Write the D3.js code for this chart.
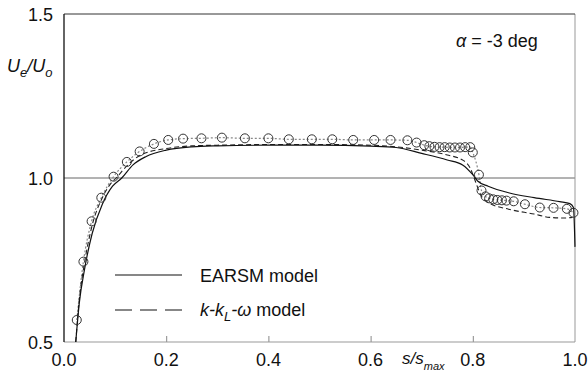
<!DOCTYPE html>
<html><head><meta charset="utf-8">
<script src="https://cdn.jsdelivr.net/npm/d3@7"></script>
<style>body{margin:0;background:#fff}svg{display:block}text{font-family:"Liberation Sans",Arial,sans-serif;fill:#111}</style>
</head><body>
<svg id="c" width="588" height="376"></svg>
<script>
const expX = [0.025,0.038,0.054,0.073,0.097,0.123,0.148,0.176,0.204,0.233,0.269,0.309,0.354,0.400,0.440,0.485,0.525,0.566,0.607,0.639,0.672,0.690,0.705,0.715,0.725,0.735,0.745,0.755,0.765,0.775,0.785,0.795,0.800,0.812,0.817,0.825,0.832,0.840,0.848,0.857,0.866,0.880,0.902,0.931,0.958,0.984,0.997];
const expY = [0.567,0.745,0.868,0.940,1.004,1.049,1.081,1.104,1.116,1.120,1.121,1.123,1.121,1.121,1.118,1.118,1.118,1.116,1.116,1.116,1.115,1.108,1.100,1.097,1.095,1.094,1.094,1.093,1.093,1.093,1.094,1.094,1.078,1.010,0.962,0.944,0.938,0.935,0.933,0.932,0.931,0.929,0.920,0.910,0.909,0.906,0.894];
const earsmX = [0.023,0.030,0.040,0.055,0.075,0.095,0.113,0.135,0.160,0.200,0.250,0.300,0.400,0.500,0.600,0.650,0.700,0.750,0.780,0.800,0.810,0.830,0.870,0.920,0.970,0.990,0.997,1.000];
const earsmY = [0.500,0.620,0.720,0.830,0.920,0.975,1.000,1.040,1.065,1.085,1.095,1.098,1.100,1.100,1.097,1.093,1.075,1.055,1.040,1.010,0.990,0.975,0.955,0.940,0.928,0.922,0.910,0.790];
const kklX = [0.023,0.030,0.040,0.055,0.075,0.090,0.102,0.125,0.150,0.200,0.250,0.300,0.400,0.500,0.600,0.650,0.700,0.750,0.780,0.795,0.805,0.815,0.830,0.870,0.920,0.950,0.980,0.995];
const kklY = [0.500,0.630,0.740,0.855,0.940,0.980,1.000,1.040,1.070,1.090,1.098,1.100,1.102,1.102,1.100,1.095,1.085,1.070,1.055,1.030,0.990,0.950,0.925,0.905,0.890,0.880,0.878,0.880];
const xTicks = [0.0,0.2,0.4,0.6,0.8,1.0];
const xTickLabels = ["0.0","0.2","0.4","0.6","0.8","1.0"];
const yTicks = [0.5,1.0,1.5];
const yTickLabels = ["0.5","1.0","1.5"];

const svg = d3.select("#c");
const L=64,R=575,T=14,B=342;
const x = d3.scaleLinear().domain([0,1]).range([L,R]);
const y = d3.scaleLinear().domain([0.5,1.5]).range([B,T]);

svg.append("line").attr("x1",L).attr("x2",R).attr("y1",y(1)).attr("y2",y(1)).attr("stroke","#666").attr("stroke-width",1);

const xAxis = d3.axisBottom(x).tickValues(xTicks.slice(1,-1)).tickSize(-6).tickFormat("");
const gx = svg.append("g").attr("transform",`translate(0,${B})`).call(xAxis);
gx.select(".domain").remove();
gx.selectAll("line").attr("stroke","#888");
svg.append("g").selectAll("text").data(xTicks).join("text")
  .attr("x",d=>x(d)).attr("y",366).attr("text-anchor","middle").attr("font-size",18)
  .text((d,i)=>xTickLabels[i]);
svg.append("g").selectAll("text").data(yTicks).join("text")
  .attr("x",53).attr("y",d=>y(d)+7).attr("text-anchor","end").attr("font-size",18)
  .text((d,i)=>yTickLabels[i]);

svg.append("line").attr("x1",L).attr("x2",R).attr("y1",B).attr("y2",B).attr("stroke","#999");
svg.append("line").attr("x1",R).attr("x2",R).attr("y1",T).attr("y2",B).attr("stroke","#999");
svg.append("line").attr("x1",L).attr("x2",R).attr("y1",T).attr("y2",T).attr("stroke","#333");
svg.append("line").attr("x1",L).attr("x2",L).attr("y1",T).attr("y2",B).attr("stroke","#111").attr("stroke-width",1.3);

const line = d3.line().x(d=>x(d[0])).y(d=>y(d[1])).curve(d3.curveMonotoneX);
const expPts = expX.map((v,i)=>[v,expY[i]]);
const earsm = earsmX.map((v,i)=>[v,earsmY[i]]);
const kkl = kklX.map((v,i)=>[v,kklY[i]]);

svg.append("path").attr("d",line(expPts)).attr("fill","none").attr("stroke","#888").attr("stroke-width",1.2).attr("stroke-dasharray","2,2");
svg.append("path").attr("d",line(kkl)).attr("fill","none").attr("stroke","#222").attr("stroke-width",1.1).attr("stroke-dasharray","5,3");
svg.append("path").attr("d",line(earsm)).attr("fill","none").attr("stroke","#111").attr("stroke-width",1.2);

svg.append("g").selectAll("circle").data(expPts).join("circle")
  .attr("cx",d=>x(d[0])).attr("cy",d=>y(d[1])).attr("r",4.5)
  .attr("fill","none").attr("stroke","#333").attr("stroke-width",1);

svg.append("line").attr("x1",115).attr("x2",182).attr("y1",275).attr("y2",275).attr("stroke","#111").attr("stroke-width",1.2);
svg.append("line").attr("x1",115).attr("x2",182).attr("y1",310).attr("y2",310).attr("stroke","#111").attr("stroke-width",1.2).attr("stroke-dasharray","17,8");
svg.append("text").attr("x",200).attr("y",282).attr("font-size",18).text("EARSM model");
const t2 = svg.append("text").attr("x",200).attr("y",316).attr("font-size",18);
t2.append("tspan").attr("font-style","italic").text("k-k");
t2.append("tspan").attr("font-style","italic").attr("font-size",13).attr("dy",5).text("L");
t2.append("tspan").attr("font-style","italic").attr("dy",-5).text("-ω");
t2.append("tspan").text(" model");

const a = svg.append("text").attr("x",456).attr("y",47).attr("font-size",18);
a.append("tspan").attr("font-style","italic").text("α");
a.append("tspan").text(" = -3 deg");

const yl = svg.append("text").attr("x",7).attr("y",72).attr("font-size",18).attr("font-style","italic");
yl.append("tspan").text("U");
yl.append("tspan").attr("font-size",13).attr("dy",5).text("e");
yl.append("tspan").attr("dy",-5).text("/U");
yl.append("tspan").attr("font-size",13).attr("dy",5).text("o");
const xl = svg.append("text").attr("x",402).attr("y",364).attr("font-size",17).attr("font-style","italic");
xl.append("tspan").text("s/s");
xl.append("tspan").attr("font-size",11).attr("dy",6).text("max");
</script>
</body></html>
